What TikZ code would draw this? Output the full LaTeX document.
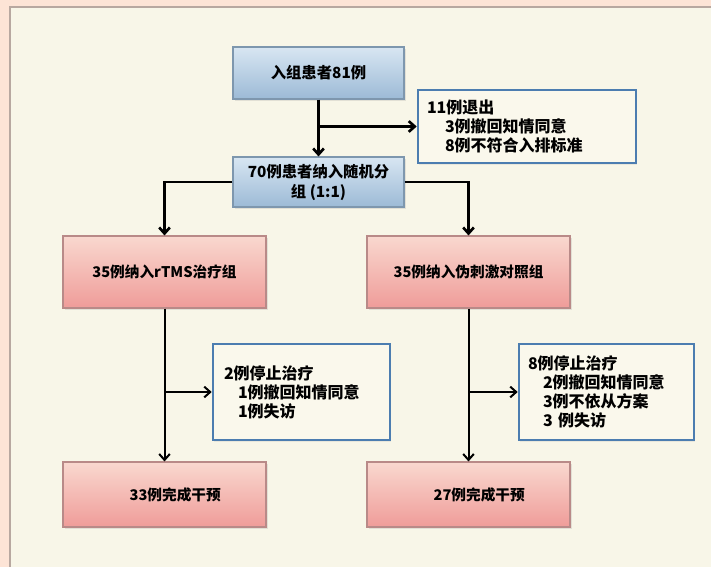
\documentclass[tikz,border=0pt]{standalone}
\usepackage{fontspec}
\setmainfont{Noto Sans CJK SC}
\usetikzlibrary{arrows.meta,shadows}
\definecolor{peach}{HTML}{FDE4D6}
\definecolor{panel}{HTML}{F8F6E8}
\definecolor{panelline}{HTML}{B8A8A0}
\definecolor{bluetop}{HTML}{D8E6F2}
\definecolor{bluebot}{HTML}{9CBAD6}
\definecolor{blueline}{HTML}{7E97AE}
\definecolor{pinktop}{HTML}{F9D8CF}
\definecolor{pinkbot}{HTML}{EF9C99}
\definecolor{pinkline}{HTML}{B98A88}
\definecolor{sideline}{HTML}{4C7DB0}
\definecolor{sidefill}{HTML}{FAF8EC}
\begin{document}
\begin{tikzpicture}[x=0.75pt,y=-0.75pt,
  boxshadow/.style={drop shadow={opacity=0.18,shadow xshift=1.2pt,shadow yshift=-1.5pt}},
  bluebox/.style={draw=blueline, line width=0.8pt, top color=bluetop, bottom color=bluebot,
    minimum width=128.25pt, inner sep=2pt, align=center,
    font=\fontsize{11.5}{15}\selectfont\bfseries, boxshadow},
  pinkbox/.style={draw=pinkline, line width=0.8pt, top color=pinktop, bottom color=pinkbot,
    minimum width=152.25pt, inner sep=2pt, align=center,
    font=\fontsize{11}{14}\selectfont\bfseries, boxshadow},
  sidebox/.style={draw=sideline, line width=1.9pt, fill=sidefill, align=left,
    inner ysep=0pt, font=\fontsize{12}{14.25}\selectfont\bfseries,
    drop shadow={opacity=0.12,shadow xshift=1pt,shadow yshift=-1.2pt}},
  conn/.style={line width=2pt, -{Straight Barb[length=4.5pt,width=8pt]}},
  connthin/.style={line width=1.5pt, -{Straight Barb[length=4.5pt,width=8pt]}}
]
\useasboundingbox (0,0) rectangle (711,567);
\fill[peach] (0,0) rectangle (711,567);
\fill[panel] (10,7) rectangle (711,567);
\draw[panelline, line width=0.9pt] (10,567) -- (10,7) -- (711,7);

% nodes
\node[bluebox, minimum height=39pt] (b1) at (318.5,73) {入组患者81例};
\node[bluebox, minimum height=37.5pt] (b2) at (318.5,182) {70例患者纳入随机分\\组 (1:1)};
\node[sidebox, text width=150pt, inner xsep=6.75pt, minimum height=54.75pt] (w1) at (527,126.5)
  {11例退出\\\hspace*{13.5pt}3例撤回知情同意\\\hspace*{13.5pt}8例不符合入排标准};
\node[pinkbox, minimum height=54pt] (g1) at (164.5,272) {35例纳入rTMS治疗组};
\node[pinkbox, minimum height=54pt] (g2) at (468.5,272) {35例纳入伪刺激对照组};
\node[sidebox, text width=116.25pt, inner xsep=8.25pt, minimum height=72pt] (s1) at (301.5,392)
  {2例停止治疗\\\hspace*{10.5pt}1例撤回知情同意\\\hspace*{10.5pt}1例失访};
\node[sidebox, text width=117.75pt, inner xsep=6.75pt, minimum height=72pt] (s2) at (606.5,392)
  {8例停止治疗\\\hspace*{11.25pt}2例撤回知情同意\\\hspace*{11.25pt}3例不依从方案\\\hspace*{11.25pt}3 例失访};
\node[pinkbox, minimum height=48.75pt] (c1) at (164.5,494.5) {\hspace*{16pt}33例完成干预};
\node[pinkbox, minimum height=48.75pt] (c2) at (468.5,494.5) {\hspace*{16pt}27例完成干预};

% connectors
\draw[conn] (b1.south) -- (b2.north);
\coordinate (j1) at (b1.south |- w1.west);
\draw[conn] (j1) -- (w1.west);
\draw[conn] (b2.west) -| (g1.north);
\draw[conn] (b2.east) -| (g2.north);
\draw[connthin] (g1.south) -- (c1.north);
\coordinate (j2) at (g1.south |- s1.west);
\draw[connthin] (j2) -- (s1.west);
\draw[connthin] (g2.south) -- (c2.north);
\coordinate (j3) at (g2.south |- s2.west);
\draw[connthin] (j3) -- (s2.west);
\end{tikzpicture}
\end{document}
